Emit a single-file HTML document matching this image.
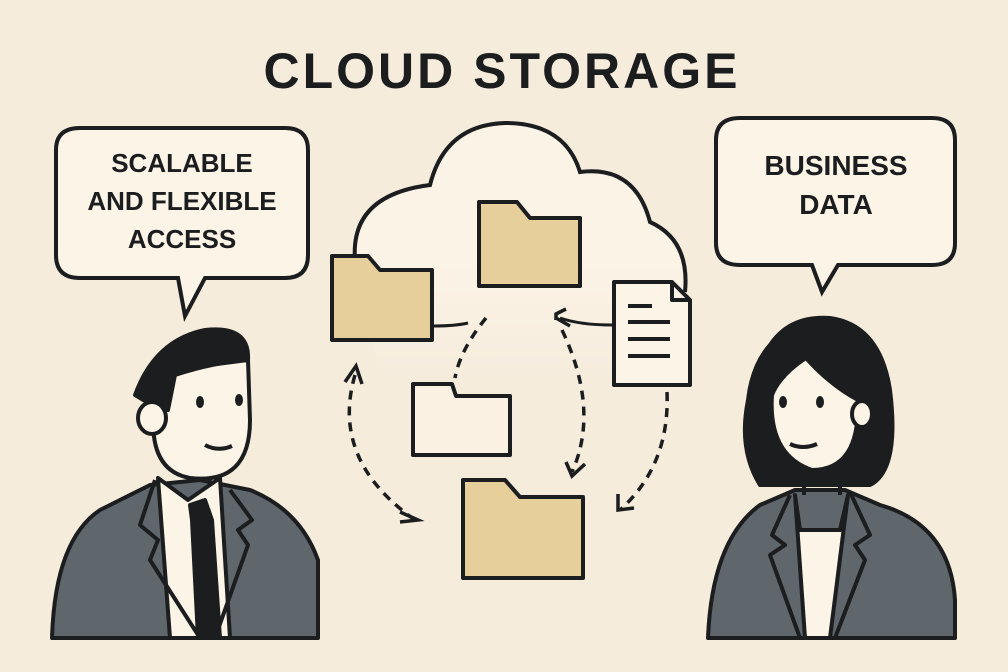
<!DOCTYPE html>
<html><head><style>
html,body{margin:0;padding:0;background:#f6ecdc;}
svg{display:block}
text{font-family:"Liberation Sans",sans-serif;font-weight:bold;fill:#1b1d1f;text-anchor:middle}
</style></head><body>
<svg width="1008" height="672" viewBox="0 0 1008 672" xmlns="http://www.w3.org/2000/svg">
<defs><linearGradient id="cg" x1="0" y1="0" x2="0" y2="1"><stop offset="0.55" stop-color="#fbf3e6"/><stop offset="1" stop-color="#f6ecdc"/></linearGradient></defs>
<rect width="1008" height="672" fill="#f6ecdc"/>
<text x="502" y="88" font-size="50" letter-spacing="3">CLOUD STORAGE</text>

<path d="M80 128 H285 Q308 128 308 150 V255 Q308 278 285 278 H205 L185 316 L178 278 H80 Q56 278 56 255 V150 Q56 128 80 128Z" fill="#fbf4e7" stroke="#1b1d1f" stroke-width="4"/>
<text x="182" y="172" font-size="26">SCALABLE</text>
<text x="182" y="210" font-size="26">AND FLEXIBLE</text>
<text x="182" y="248" font-size="26">ACCESS</text>

<path d="M740 118 H932 Q955 118 955 140 V243 Q955 265 932 265 H838 L822 292 L812 265 H740 Q716 265 716 243 V140 Q716 118 740 118Z" fill="#fbf4e7" stroke="#1b1d1f" stroke-width="4"/>
<text x="836" y="175" font-size="28">BUSINESS</text>
<text x="836" y="214" font-size="28">DATA</text>

<path d="M355 260 Q350 195 430 185 Q445 125 505 123 Q565 123 580 172 Q635 165 650 222 Q690 240 685 290 L660 380 L380 380 Z" fill="url(#cg)"/>
<path d="M355 260 Q350 195 430 185 Q445 125 505 123 Q565 123 580 172 Q635 165 650 222 Q690 240 685 292" fill="none" stroke="#1b1d1f" stroke-width="4"/>

<g stroke="#1b1d1f" stroke-width="4" stroke-linejoin="round">
<path d="M332 256 H368 L380 270 H432 V340 H332Z" fill="#e6cf9b"/>
<path d="M479 202 H517 L530 218 H580 V286 H479Z" fill="#e6cf9b"/>
<path d="M413 384 H452 L456 396 H510 V455 H413Z" fill="#fbf1e2"/>
<path d="M463 480 H505 L520 497 H583 V578 H463Z" fill="#e6cf9b"/>
<path d="M614 282 H672 L690 300 V385 H614Z" fill="#fbf4e7"/>
<path d="M672 282 V300 H690" fill="none"/>
</g>
<g stroke="#1b1d1f" stroke-width="4">
<line x1="628" y1="306" x2="652" y2="306"/><line x1="628" y1="322" x2="670" y2="322"/><line x1="628" y1="339" x2="670" y2="339"/><line x1="628" y1="356" x2="670" y2="356"/>
</g>

<g fill="none" stroke="#1b1d1f" stroke-width="3">
<path d="M434 326 Q455 326 468 323"/>
<path d="M612 325 Q580 325 560 318"/>
</g>
<g fill="none" stroke="#1b1d1f" stroke-width="3.5" stroke-dasharray="9 7">
<path d="M486 318 Q460 350 455 378"/>
<path d="M355 375 Q330 460 415 520"/>
<path d="M562 330 Q600 410 572 472"/>
<path d="M667 392 Q670 465 620 510"/>
</g>
<g fill="none" stroke="#1b1d1f" stroke-width="3.5">
<path d="M345 382 L356 366 L362 384"/>
<path d="M400 512 L418 520 L400 522"/>
<path d="M566 462 L572 476 L585 464"/>
<path d="M556 320 L556 314 L566 309 M556 318 L570 326"/>
<path d="M618 494 L618 510 L634 508"/>
</g>

<g stroke="#1b1d1f" stroke-width="4" stroke-linejoin="round">
<path d="M52 638 Q55 540 100 510 L150 485 L200 480 L250 490 Q300 510 318 560 L318 638Z" fill="#5f666c"/>
<path d="M158 478 L188 500 L220 478 L230 638 H170Z" fill="#fbf4e7"/>
<path d="M190 505 L205 500 L212 520 L220 638 H198 L192 520Z" fill="#1b1d1f"/>
<path d="M155 480 L140 525 L158 540 L150 560 L200 638" fill="none"/>
<path d="M230 490 L252 520 L238 530 L248 545 L215 638" fill="none"/>
<path d="M155 400 Q145 470 190 478 Q250 485 250 420 L248 360 L170 370Z" fill="#fbf4e7"/>
<path d="M135 395 Q155 340 205 330 Q250 325 248 360 Q215 362 175 375 L168 410 Q150 405 135 395Z" fill="#1b1d1f"/>
<ellipse cx="152" cy="418" rx="14" ry="16" fill="#fbf4e7"/>
</g>
<g fill="#1b1d1f"><ellipse cx="200" cy="402" rx="4" ry="6"/><ellipse cx="239" cy="400" rx="4" ry="6"/></g>
<path d="M205 445 Q218 452 232 446" fill="none" stroke="#1b1d1f" stroke-width="4"/>

<g stroke="#1b1d1f" stroke-width="4" stroke-linejoin="round">
<path d="M770 345 Q790 315 830 318 Q880 325 890 390 Q900 470 870 485 L760 485 Q738 450 748 400 Q752 365 770 345Z" fill="#1b1d1f"/>
<path d="M708 638 Q712 540 760 505 L795 490 L845 490 L880 505 Q950 525 955 600 L955 638Z" fill="#5f666c"/>
<path d="M795 495 L800 530 L840 530 L848 495 L830 638 H805Z" fill="#fbf4e7"/>
<path d="M790 495 L772 535 L785 545 L770 555 L800 638" fill="none"/>
<path d="M850 492 L870 535 L855 545 L865 560 L835 638" fill="none"/>
<path d="M804 465 L804 495 M840 465 L840 495" fill="none"/>
<path d="M806 358 Q780 375 772 395 Q768 455 812 470 Q860 470 858 400 Q830 385 806 358Z" fill="#fbf4e7"/>
<ellipse cx="862" cy="414" rx="10" ry="13" fill="#fbf4e7"/>
</g>
<g fill="#1b1d1f"><ellipse cx="783" cy="402" rx="4" ry="6"/><ellipse cx="820" cy="402" rx="4" ry="6"/></g>
<path d="M790 444 Q803 450 817 444" fill="none" stroke="#1b1d1f" stroke-width="4"/>
</svg>
</body></html>
